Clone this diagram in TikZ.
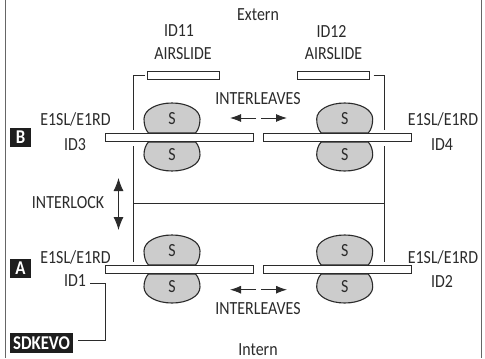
\documentclass[tikz,border=0pt]{standalone}
\usepackage{fontspec}
\setmainfont[FakeStretch=0.86]{Carlito}
\usetikzlibrary{arrows.meta}
\definecolor{ink}{HTML}{2B2B2B}
\tikzset{x=1pt,y=-1pt,
 lab/.style={font=\fontsize{18.5}{19}\selectfont,text=ink,inner sep=0pt},
 badge/.style={fill=ink!70!black,text=white,inner sep=0pt,font=\fontsize{19.5}{20}\selectfont\bfseries},
 barbox/.style={draw=ink,fill=white,line width=0.9pt},
 wire/.style={draw=ink,line width=0.9pt},
 blob/.style={draw=ink,fill=black!20,line width=1.1pt},
 arr/.style={draw=ink,line width=0.9pt,-{Latex[length=11pt,width=8pt]}},
 dbl/.style={draw=ink,line width=0.9pt,{Latex[length=13pt,width=10pt]}-{Latex[length=13pt,width=10pt]}}}
\newcommand{\blobpair}[3]{%
 \draw[blob] (#1-23.5,#2-4.5) .. controls (#1-26.5,#2-7.5) and (#1-28,#2-13) .. (#1-28,#2-18.5) .. controls (#1-28,#2-28) and (#1-15,#2-34.5) .. (#1,#2-34.5) .. controls (#1+15,#2-34.5) and (#1+28,#2-28) .. (#1+28,#2-18.5) .. controls (#1+28,#2-13) and (#1+26.5,#2-7.5) .. (#1+23.5,#2-4.5) -- cycle;
 \draw[blob] (#1-23.5,#2+4.5) .. controls (#1-26.5,#2+7.5) and (#1-28,#2+12.5) .. (#1-28,#2+17.5) .. controls (#1-28,#2+27) and (#1-15,#2+33.5) .. (#1,#2+33.5) .. controls (#1+15,#2+33.5) and (#1+28,#2+27) .. (#1+28,#2+17.5) .. controls (#1+28,#2+12.5) and (#1+26.5,#2+7.5) .. (#1+23.5,#2+4.5) -- cycle;
 \node[lab] (#3u) at (#1,#2-19) {S};
 \node[lab] (#3d) at (#1,#2+17.5) {S};}
\begin{document}
\begin{tikzpicture}
\useasboundingbox (0,0) rectangle (485,359);
\fill[white] (0,0) rectangle (485,359);
\draw[draw=black!60,line width=0.9pt] (5.5,0) -- (5.5,358);
\draw[draw=black!60,line width=0.9pt] (481,0) -- (481,358);
% blobs
\blobpair{172}{137.5}{tl}
\blobpair{344.7}{137.5}{tr}
\blobpair{172}{269.5}{bl}
\blobpair{344.7}{269.5}{br}
% bars
\node[barbox,minimum width=147.5pt,minimum height=8pt,inner sep=0pt] (id3) at (179.2,137.5) {};
\node[barbox,minimum width=148pt,minimum height=8pt,inner sep=0pt] (id4) at (337.5,137.5) {};
\node[barbox,minimum width=147.5pt,minimum height=8pt,inner sep=0pt] (id1) at (179.2,269.5) {};
\node[barbox,minimum width=148pt,minimum height=8pt,inner sep=0pt] (id2) at (337.5,269.5) {};
\node[barbox,minimum width=72pt,minimum height=8pt,inner sep=0pt] (as1) at (183,75) {};
\node[barbox,minimum width=72pt,minimum height=8pt,inner sep=0pt] (as2) at (333.5,75) {};
% wires
\coordinate (a1) at (133.5,130);
\coordinate (a2) at (133.5,146);
\coordinate (a3) at (133.5,261.5);
\coordinate (b1) at (384,130);
\coordinate (b2) at (384,146);
\coordinate (b3) at (384,261.5);
\coordinate (m1) at (133.5,203);
\coordinate (m2) at (384,203);
\coordinate (a0) at (145,75);
\coordinate (b0) at (373.5,75);
\draw[wire] (a0) -- (133.5,75) -- (a1);
\draw[wire] (b0) -- (384,75) -- (b1);
\draw[wire] (a2) -- (a3);
\draw[wire] (b2) -- (b3);
\draw[wire] (m1) -- (m2);
% labels
\node[lab] (ext) at (258,15) {Extern};
\node[lab] (int) at (258,349.5) {Intern};
\node[lab] (t11) at (179,31) {ID11};
\node[lab] (t12) at (331.5,31) {ID12};
\node[lab] (s11) at (183,54) {AIRSLIDE};
\node[lab] (s12) at (333.5,54) {AIRSLIDE};
\node[lab] (e3) at (75.5,119) {E1SL/E1RD};
\node[lab] (i3) at (75,145) {ID3};
\node[lab] (e4) at (443,119) {E1SL/E1RD};
\node[lab] (i4) at (442,145) {ID4};
\node[lab] (e1) at (75.5,257) {E1SL/E1RD};
\node[lab] (i1) at (75,281) {ID1};
\node[lab] (e2) at (443,257) {E1SL/E1RD};
\node[lab] (i2) at (442,281) {ID2};
\node[lab] (ilk) at (68,203) {INTERLOCK};
\node[lab] (lt) at (258,99) {INTERLEAVES};
\node[lab] (lb) at (258,309) {INTERLEAVES};
% badges
\node[badge,minimum width=21pt,minimum height=19pt] (B) at (20.5,137.5) {B};
\node[badge,minimum width=21pt,minimum height=19pt] (A) at (20.5,268.5) {A};
\node[badge,minimum width=63pt,minimum height=20pt] (sdk) at (41.5,343) {SDKEVO};
% connector
\coordinate (c1) at (90,283);
\coordinate (c2) at (105,283);
\coordinate (c3) at (105,340);
\coordinate (c4) at (78,340);
\draw[wire] (c1) -- (c2) -- (c3) -- (c4);
% arrows
\coordinate (al1) at (256,118); \coordinate (al2) at (230,118);
\coordinate (ar1) at (261,118); \coordinate (ar2) at (287,118);
\coordinate (bl1) at (256,289.7); \coordinate (bl2) at (230,289.7);
\coordinate (br1) at (261,289.7); \coordinate (br2) at (287,289.7);
\draw[arr] (al1) -- (al2);
\draw[arr] (ar1) -- (ar2);
\draw[arr] (bl1) -- (bl2);
\draw[arr] (br1) -- (br2);
\coordinate (d1) at (118.5,178);
\coordinate (d2) at (118.5,230);
\draw[dbl] (d1) -- (d2);
\end{tikzpicture}
\end{document}
